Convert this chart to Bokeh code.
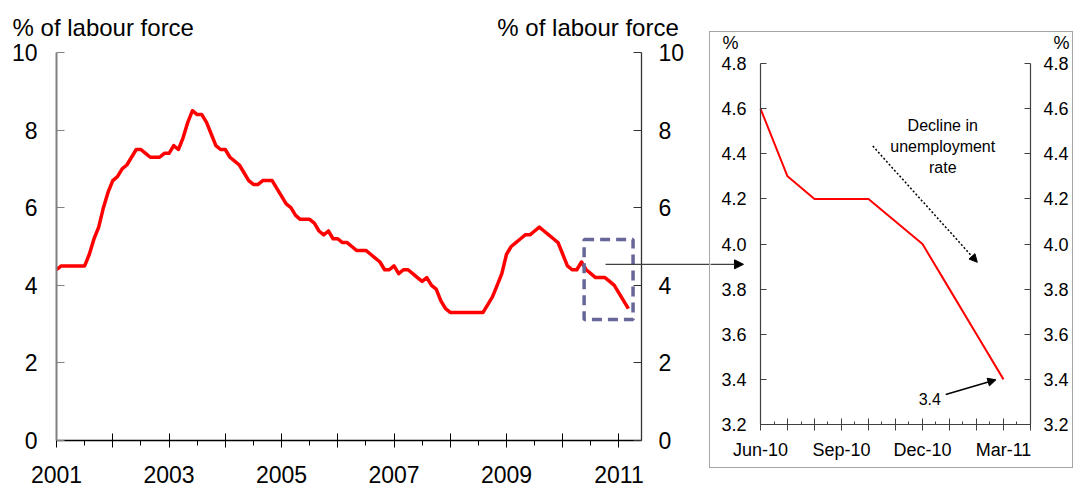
from bokeh.plotting import figure
from bokeh.models import (Range1d, LinearAxis, FixedTicker, BoxAnnotation, Arrow,
                          NormalHead, Label, Spacer, NumeralTickFormatter)
from bokeh.layouts import row, column
from bokeh.embed import file_html
from bokeh.resources import INLINE

FONT = "Liberation Sans"

# ---------------- data: monthly unemployment rate, % of labour force ----------------
rate_2001 = [4.4, 4.5, 4.5, 4.5, 4.5, 4.5, 4.5, 4.8, 5.2, 5.5, 6.0, 6.4]
rate_2002 = [6.7, 6.8, 7.0, 7.1, 7.3, 7.5, 7.5, 7.4, 7.3, 7.3, 7.3, 7.4]
rate_2003 = [7.4, 7.6, 7.5, 7.8, 8.2, 8.5, 8.4, 8.4, 8.2, 7.9, 7.6, 7.5]
rate_2004 = [7.5, 7.3, 7.2, 7.1, 6.9, 6.7, 6.6, 6.6, 6.7, 6.7, 6.7, 6.5]
rate_2005 = [6.3, 6.1, 6.0, 5.8, 5.7, 5.7, 5.7, 5.6, 5.4, 5.3, 5.4, 5.2]
rate_2006 = [5.2, 5.1, 5.1, 5.0, 4.9, 4.9, 4.9, 4.8, 4.7, 4.6, 4.4, 4.4]
rate_2007 = [4.5, 4.3, 4.4, 4.4, 4.3, 4.2, 4.1, 4.2, 4.0, 3.9, 3.6, 3.4]
rate_2008 = [3.3, 3.3, 3.3, 3.3, 3.3, 3.3, 3.3, 3.3, 3.5, 3.7, 4.0, 4.3]
rate_2009 = [4.8, 5.0, 5.1, 5.2, 5.3, 5.3, 5.4, 5.5, 5.4, 5.3, 5.2, 5.1]
rate_2010 = [4.8, 4.5, 4.4, 4.4, 4.6, 4.4, 4.3, 4.2, 4.2, 4.2, 4.1, 4.0]
rate_2011 = [3.8, 3.6, 3.4]

main_rate = (rate_2001 + rate_2002 + rate_2003 + rate_2004 + rate_2005 + rate_2006 +
             rate_2007 + rate_2008 + rate_2009 + rate_2010 + rate_2011)
main_x = [2001 + i / 12 for i in range(len(main_rate))]   # one point per month from Jan 2001

year_ticks = [2001, 2002, 2003, 2004, 2005, 2006, 2007, 2008, 2009, 2010, 2011]
year_labels = ["2001", "", "2003", "", "2005", "", "2007", "", "2009", "", "2011"]
main_y_ticks = [0, 2, 4, 6, 8, 10]

inset_months = ["Jun-10", "Jul-10", "Aug-10", "Sep-10", "Oct-10", "Nov-10",
                "Dec-10", "Jan-11", "Feb-11", "Mar-11", "Apr-11"]
inset_month_labels = ["Jun-10", "", "", "Sep-10", "", "", "Dec-10", "", "", "Mar-11", ""]
inset_rate = [4.6, 4.3, 4.2, 4.2, 4.2, 4.1, 4.0, 3.8, 3.6, 3.4]
inset_y_ticks = [3.2, 3.4, 3.6, 3.8, 4.0, 4.2, 4.4, 4.6, 4.8]

# axis extents (the axes are drawn at fixed positions inside a full-canvas frame)
main_x_lo, main_x_hi = 2001, 2011.4
main_y_lo, main_y_hi = 0, 10
inset_x_lo, inset_x_hi = 0, 10
inset_y_lo, inset_y_hi = 3.2, 4.8

# ---------------- main chart ----------------
p = figure(width=709, height=493, x_range=Range1d(2000.004, 2012.609),
           y_range=Range1d(-1.366, 11.34),
           output_backend="svg", toolbar_location=None,
           min_border_left=0, min_border_right=0, min_border_top=0, min_border_bottom=0)
p.outline_line_color = None
p.grid.visible = False

xa = p.xaxis[0]
xa.fixed_location = main_y_lo
xa.bounds = (main_x_lo, main_x_hi)
xa.ticker = FixedTicker(ticks=year_ticks, minor_ticks=[y + 0.5 for y in year_ticks[:-1]])
xa.major_label_overrides = {y: l for y, l in zip(year_ticks, year_labels)}
xa.axis_line_color = "#000000"
xa.axis_line_width = 1.3
xa.major_tick_line_color = "#000000"
xa.minor_tick_line_color = "#000000"
xa.major_tick_in = 7
xa.major_tick_out = 7
xa.minor_tick_in = 0
xa.minor_tick_out = 5
xa.major_label_text_font = FONT
xa.major_label_text_font_size = "23px"
xa.major_label_text_color = "#000000"
xa.major_label_standoff = 19

ya = p.yaxis[0]
ya.fixed_location = main_x_lo
ya.bounds = (main_y_lo, main_y_hi)
ya.ticker = FixedTicker(ticks=main_y_ticks, minor_ticks=[])
ya.axis_line_color = "#808080"
ya.axis_line_width = 2
ya.major_tick_line_color = "#808080"
ya.major_tick_in = 8
ya.major_tick_out = 0
ya.major_label_text_font = FONT
ya.major_label_text_font_size = "23px"
ya.major_label_text_color = "#000000"
ya.major_label_standoff = 19

yr = LinearAxis(ticker=FixedTicker(ticks=main_y_ticks, minor_ticks=[]),
                fixed_location=main_x_hi, bounds=(main_y_lo, main_y_hi))
yr.axis_line_color = "#333333"
yr.axis_line_width = 1.3
yr.major_tick_line_color = "#333333"
yr.major_tick_in = 8
yr.major_tick_out = 0
yr.major_label_text_font = FONT
yr.major_label_text_font_size = "23px"
yr.major_label_text_color = "#000000"
yr.major_label_standoff = 17
p.add_layout(yr, "right")

p.line(main_x, main_rate, line_color="#FF0000", line_width=3.5, line_join="round")

# highlight of the period shown in the inset
box_left, box_right, box_bottom, box_top = 2010.38, 2011.25, 3.12, 5.18
p.add_layout(BoxAnnotation(left=box_left, right=box_right, bottom=box_bottom, top=box_top,
                           fill_alpha=0, line_color="#666699", line_alpha=1.0,
                           line_width=3.5, line_dash="10 6"))
connector_y = 4.54
p.add_layout(Arrow(end=None, x_start=2010.76, y_start=connector_y, x_end=2012.8,
                   y_end=connector_y, line_color="#404040", line_width=1.3))

p.add_layout(Label(x=2000.218, y=10.644, text="% of labour force",
                   text_font=FONT, text_font_size="24px", text_color="#000000",
                   text_align="left", text_baseline="alphabetic"))
p.add_layout(Label(x=2012.063, y=10.644, text="% of labour force",
                   text_font=FONT, text_font_size="24px", text_color="#000000",
                   text_align="right", text_baseline="alphabetic"))

# ---------------- inset chart ----------------
q = figure(width=364, height=437, x_range=Range1d(-1.852, 11.63),
           y_range=Range1d(3.0005, 4.9376),
           output_backend="svg", toolbar_location=None,
           min_border_left=0, min_border_right=0, min_border_top=0, min_border_bottom=0,
           styles={"border": "1px solid #a6a6a6"})
q.outline_line_color = None
q.grid.visible = False

qx = q.xaxis[0]
qx.fixed_location = inset_y_lo
qx.bounds = (inset_x_lo, inset_x_hi)
qx.ticker = FixedTicker(ticks=list(range(len(inset_months))),
                        minor_ticks=[i + 0.5 for i in range(len(inset_months) - 1)])
qx.major_label_overrides = {i: l for i, l in enumerate(inset_month_labels)}
qy = q.yaxis[0]
qy.fixed_location = inset_x_lo
qy.bounds = (inset_y_lo, inset_y_hi)
qy.ticker = FixedTicker(ticks=inset_y_ticks, minor_ticks=[])
qy.formatter = NumeralTickFormatter(format="0.0")
qr = LinearAxis(ticker=FixedTicker(ticks=inset_y_ticks, minor_ticks=[]),
                formatter=NumeralTickFormatter(format="0.0"),
                fixed_location=inset_x_hi, bounds=(inset_y_lo, inset_y_hi))
q.add_layout(qr, "right")

for ax in (qx, qy, qr):
    ax.axis_line_color = "#404040"
    ax.axis_line_width = 1.2
    ax.major_tick_line_color = "#404040"
    ax.minor_tick_line_color = "#404040"
    ax.major_label_text_font = FONT
    ax.major_label_text_font_size = "18px"
    ax.major_label_text_color = "#000000"
qx.major_tick_in = 6
qx.major_tick_out = 6
qx.minor_tick_in = 3
qx.minor_tick_out = 0
qx.major_label_standoff = 10
for ax in (qy, qr):
    ax.major_tick_in = 6
    ax.major_tick_out = 0
qy.major_label_standoff = 14
qr.major_label_standoff = 13

q.line(list(range(len(inset_rate))), inset_rate, line_color="#FF0000", line_width=2)

# arrow arriving from the highlighted box
q.add_layout(Arrow(end=NormalHead(size=9, fill_color="#000000", line_color="#000000"),
                   x_start=-2.0, y_start=3.91, x_end=-0.63, y_end=3.91,
                   line_color="#404040", line_width=1.3))

q.add_layout(Label(x=-1.11, y=4.889, text="%", text_font=FONT, text_font_size="18px",
                   text_align="center", text_baseline="middle", text_color="#000000"))
q.add_layout(Label(x=11.15, y=4.889, text="%", text_font=FONT, text_font_size="18px",
                   text_align="center", text_baseline="middle", text_color="#000000"))

q.add_layout(Label(x=6.75, y=4.432, text="Decline in\nunemployment\nrate", text_font=FONT,
                   text_font_size="16px", text_align="center", text_baseline="middle",
                   text_line_height=1.25, text_color="#000000"))
q.add_layout(Arrow(end=NormalHead(size=8, fill_color="#000000", line_color="#000000"),
                   x_start=4.16, y_start=4.434, x_end=8.03, y_end=3.919,
                   line_color="#000000", line_width=1.5, line_dash="2 2"))

q.add_layout(Label(x=6.27, y=3.315, text="3.4", text_font=FONT, text_font_size="16px",
                   text_align="center", text_baseline="middle", text_color="#000000"))
q.add_layout(Arrow(end=NormalHead(size=8, fill_color="#000000", line_color="#000000"),
                   x_start=6.86, y_start=3.333, x_end=8.72, y_end=3.398,
                   line_color="#000000", line_width=1.5))

layout = row(p, column(Spacer(height=31), q, spacing=0), spacing=0)

open("out.html", "w").write(file_html(layout, INLINE))
